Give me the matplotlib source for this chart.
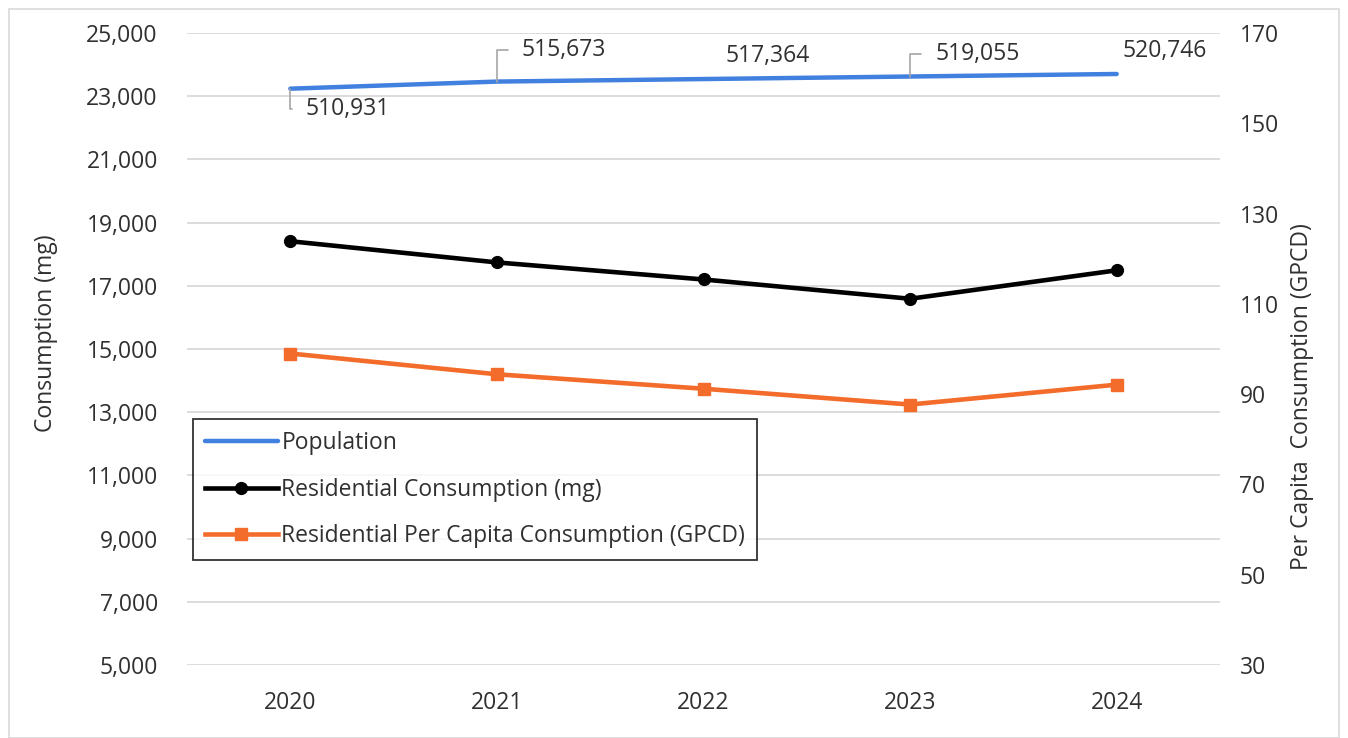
import matplotlib
matplotlib.use("Agg")
import matplotlib.pyplot as plt
from matplotlib.patches import Rectangle
from matplotlib.ticker import FuncFormatter

years = ["2020", "2021", "2022", "2023", "2024"]
population = [510931, 515673, 517364, 519055, 520746]
residential_mg = [18410, 17740, 17200, 16590, 17490]
per_capita_gpcd = [99.0, 94.4, 91.2, 87.7, 92.1]

left_ticks = list(range(5000, 25001, 2000))
right_ticks = list(range(30, 171, 20))

plt.rcParams['font.family'] = ['Open Sans', 'DejaVu Sans']
TXT = '#303030'
BLUE = '#4180DE'
ORANGE = '#F36C2B'
FS = 16.5

fig = plt.figure(figsize=(13.48, 7.38), dpi=100)
ax = fig.add_axes([187/1348, 1-665/738, (1220-187)/1348, (665-33)/738])
ax2 = ax.twinx()
ax3 = ax.twinx()

x = list(range(len(years)))

ax.set_ylim(5000, 25000)
ax.set_yticks(left_ticks)
ax.yaxis.set_major_formatter(FuncFormatter(lambda v, p: f"{int(v):,}"))
ax.grid(axis='y', color='#D9D9D9', linewidth=1.3)
ax.set_axisbelow(True)
ax.set_xlim(-0.5, 4.5)
ax.set_xticks(x)
ax.set_xticklabels(years)
ax.tick_params(axis='both', length=0, labelsize=FS, colors=TXT)
ax.tick_params(axis='y', pad=21)
ax.tick_params(axis='x', pad=19)
ax.set_ylabel("Consumption (mg)", fontsize=FS, color=TXT)
ax.yaxis.set_label_coords(-0.125, 0.525)

ax2.set_ylim(30, 170)
ax2.set_yticks(right_ticks)
ax2.tick_params(axis='y', length=0, labelsize=FS, colors=TXT, pad=14)
ax2.set_ylabel("Per Capita  Consumption (GPCD)", fontsize=FS, color=TXT)
ax2.yaxis.set_label_coords(1.068, 0.424)

# hidden population axis
ax3.set_ylim(125981, 548121)
ax3.axis('off')

for a in (ax, ax2, ax3):
    for s in a.spines.values():
        s.set_visible(False)

lp, = ax3.plot(x, population, color=BLUE, linewidth=3.2, solid_capstyle='round', label='Population')
lr, = ax.plot(x, residential_mg, color='black', linewidth=3.3, marker='o', markersize=8.5, label='Residential Consumption (mg)')
lg, = ax2.plot(x, per_capita_gpcd, color=ORANGE, linewidth=3.3, marker='s', markersize=9, label='Residential Per Capita Consumption (GPCD)')

# population labels
offsets = [(11, -14.4, True), (18, 23, True), (16, 16.5, False), (18, 16.5, True), (4.3, 16.5, False)]
for i, (dx, dy, leader) in enumerate(offsets):
    txt = f"{population[i]:,}"
    kw = dict(xy=(x[i], population[i]), xytext=(dx, dy), textcoords='offset points',
              ha='left', va='center', fontsize=FS, color=TXT)
    if leader:
        kw['arrowprops'] = dict(arrowstyle='-', color='#A6A6A6', lw=1.2, shrinkA=8, shrinkB=0,
                                relpos=(0, 0.5),
                                connectionstyle='angle,angleA=0,angleB=90,rad=0')
    ax3.annotate(txt, **kw)

leg = ax.legend(handles=[lp, lr, lg], loc='upper left', bbox_to_anchor=(0.006, 0.389),
                borderaxespad=0, fontsize=FS, frameon=True, fancybox=False,
                handlelength=3.2, handletextpad=0.15, labelspacing=1.0, borderpad=0.5)
leg.get_frame().set_edgecolor('black')
leg.get_frame().set_linewidth(1.3)
leg.set_zorder(10)
for t in leg.get_texts():
    t.set_color(TXT)

fig.patches.append(Rectangle((9/1348, 0), 1330/1348, 1-9/738, transform=fig.transFigure,
                             fill=False, edgecolor='#D9D9D9', linewidth=1.2))

fig.savefig("out.png", dpi=100)
